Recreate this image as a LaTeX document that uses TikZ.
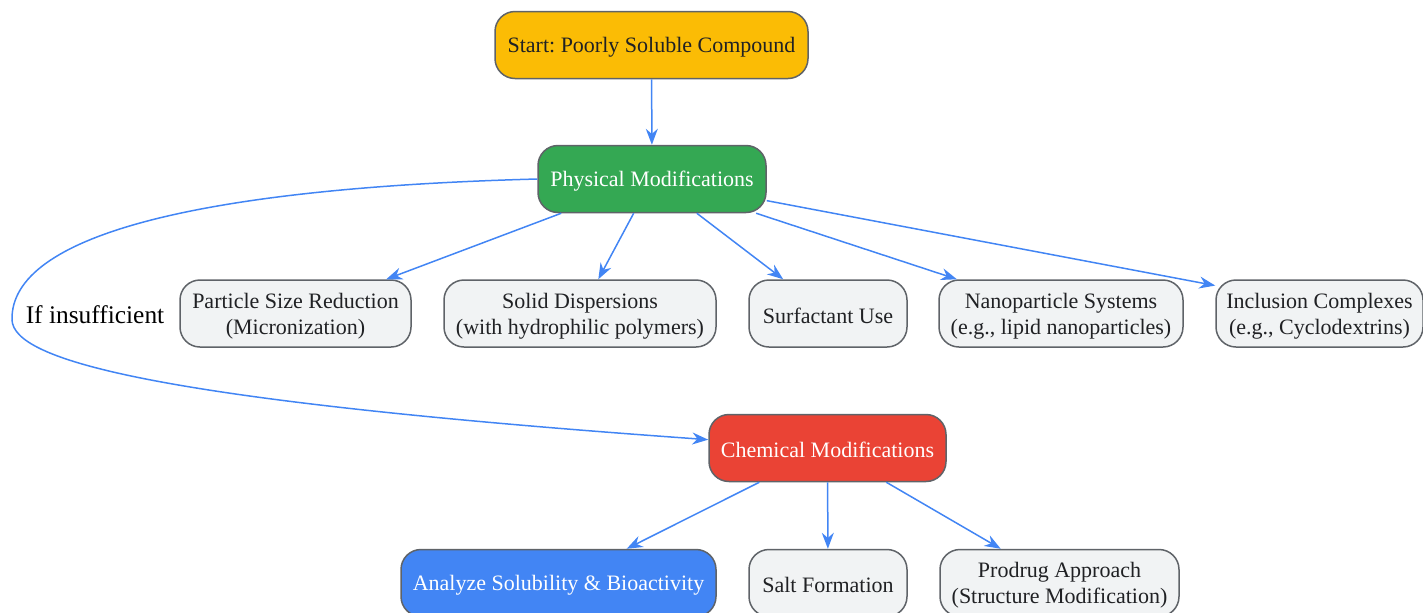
\documentclass[tikz,border=0pt]{standalone}
\usepackage{fontspec}
\setmainfont{Liberation Serif}
\frenchspacing
\usetikzlibrary{arrows.meta}
\definecolor{startyellow}{HTML}{FBBC05}
\definecolor{physgreen}{HTML}{34A853}
\definecolor{chemred}{HTML}{EA4335}
\definecolor{analyzeblue}{HTML}{4285F4}
\definecolor{optgray}{HTML}{F1F3F4}
\definecolor{boxline}{HTML}{5F6368}
\definecolor{textdark}{HTML}{202124}
\definecolor{wireblue}{HTML}{4285F4}
\begin{document}
\begin{tikzpicture}[x=0.5pt, y=-0.5pt,
    box/.style={shape=rectangle, rounded corners=10pt, draw=boxline, line width=0.75pt, inner sep=0, align=center, font=\fontsize{11}{13}\selectfont, text=textdark, minimum height=33.5pt, execute at begin node={\rule{0pt}{10pt}}},
    optbox/.style={box, fill=optgray},
    twoline/.style={optbox, text depth=0pt},
    wire/.style={draw=wireblue, line width=0.75pt, -{Stealth[length=8pt, width=6pt]}}]
          \useasboundingbox (0, 0) rectangle (1423, 612);
          % Boxes:
          \node[box, fill=startyellow, minimum width=156.5pt] (start) at (651.5, 45) {Start: Poorly Soluble Compound};
          \node[box, fill=physgreen, text=white, minimum width=114pt] (phys) at (652, 179) {Physical Modifications};
          \node[twoline, minimum width=115.5pt] (psr) at (295.5, 313.5) {Particle Size Reduction\\(Micronization)};
          \node[twoline, minimum width=136pt] (soldisp) at (580, 313.5) {Solid Dispersions\\(with hydrophilic polymers)};
          \node[optbox, minimum width=79pt] (surf) at (828, 313.5) {Surfactant Use};
          \node[twoline, minimum width=122pt] (nano) at (1061, 313.5) {Nanoparticle Systems\\(e.g., lipid nanoparticles)};
          \node[twoline, minimum width=103.5pt] (incl) at (1319.5, 313.5) {Inclusion Complexes\\(e.g., Cyclodextrins)};
          \node[box, fill=chemred, text=white, minimum width=118.5pt] (chem) at (827.5, 448) {Chemical Modifications};
          \node[box, fill=analyzeblue, text=white, minimum width=157.5pt] (analyze) at (558.5, 583) {Analyze Solubility \& Bioactivity};
          \node[optbox, minimum width=79pt] (salt) at (828, 583) {Salt Formation};
          \node[twoline, minimum width=119.5pt] (prodrug) at (1059.5, 583) {Prodrug Approach\\(Structure Modification)};
          \node[font=\fontsize{12.7}{15}\selectfont, inner sep=0] (insuff) at (95, 315) {If insufficient};
          \coordinate (loopleft) at (12, 320);
          % Arrows:
          \draw[wire] (start) -- (phys);
          \draw[wire] (phys) -- (psr);
          \draw[wire] (phys) -- (soldisp);
          \draw[wire] (phys) -- (surf);
          \draw[wire] (phys) -- (nano);
          \draw[wire] (phys) -- (incl.165);
          \draw[wire] (phys.west) .. controls (200, 188) and (10, 235) .. (loopleft) .. controls (14, 360) and (150, 400) .. (chem.176);
          \draw[wire] (chem) -- (analyze);
          \draw[wire] (chem) -- (salt);
          \draw[wire] (chem) -- (prodrug);
\end{tikzpicture}
\end{document}
